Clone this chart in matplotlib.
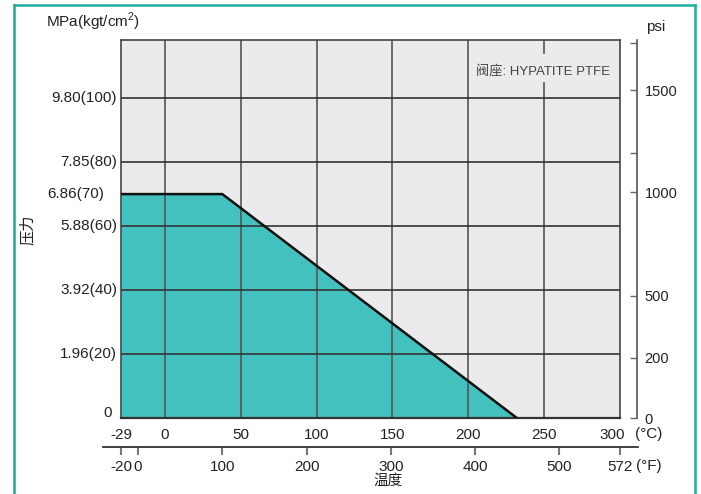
import matplotlib
matplotlib.use('Agg')
import matplotlib.pyplot as plt
from matplotlib.lines import Line2D
from matplotlib.transforms import blended_transform_factory, ScaledTranslation

plt.rcParams['font.family'] = ['Liberation Sans', 'Noto Sans CJK SC', 'DejaVu Sans']
plt.rcParams['mathtext.fontset'] = 'custom'
plt.rcParams['mathtext.rm'] = 'Liberation Sans'

# P-T rating, PTFE seat
temp_c = [-29, 37.8, 232]
press_mpa = [6.86, 6.86, 0]

c_ticks = [-29, 0, 50, 100, 150, 200, 250, 300]
f_ticks = [-20, 0, 100, 200, 300, 400, 500, 572]
mpa_ticks = [0, 1.96, 3.92, 5.88, 6.86, 7.85, 9.80]
mpa_labels = ['0', '1.96(20)', '3.92(40)', '5.88(60)', '6.86(70)', '7.85(80)', '9.80(100)']
psi_pos = [0, 1.84, 3.74, 6.92, 8.12, 10.04, 11.5]
psi_labels = ['0', '200', '500', '1000', '', '1500', '']

W, H = 701, 494
XMIN, XMAX = -29, 300
YMAX = 11.58


def fx(px):
    return px / W


def fy(py):
    return 1 - py / H


def f2c(f):
    return (f - 32) * 5 / 9


fig = plt.figure(figsize=(W / 100, H / 100), dpi=100)

ax = fig.add_axes([fx(121), fy(418), fx(620) - fx(121), fy(40) - fy(418)])
ax.set_xlim(XMIN, XMAX)
ax.set_ylim(0, YMAX)
ax.set_facecolor('#ebebee')

ax.fill_between(temp_c, press_mpa, color='#43c1be', lw=0, zorder=1)
for v in c_ticks[1:-1]:
    if v == 250:
        # leave a gap for the seat note
        ax.axvline(v, ymax=0.886, color='#555555', lw=1.2, zorder=2)
        ax.axvline(v, ymin=0.966, color='#555555', lw=1.2, zorder=2)
    else:
        ax.axvline(v, color='#555555', lw=1.2, zorder=2)
for v in mpa_ticks:
    if v not in (0, 6.86):
        ax.axhline(v, color='#333333', lw=1.2, zorder=2)
ax.plot(temp_c, press_mpa, color='#111111', lw=1.8, zorder=3, solid_capstyle='butt')

for s in ax.spines.values():
    s.set_color('#444444')
    s.set_linewidth(1.2)
ax.spines['bottom'].set_color('#333333')
ax.spines['bottom'].set_linewidth(1.6)

# MPa labels drawn by hand (6.86 sits further left)
ax.set_yticks([])
ytrans = blended_transform_factory(ax.transAxes, ax.transData)
for v, lab in zip(mpa_ticks, mpa_labels):
    x, dy = -0.008, 0
    if lab == '6.86(70)':
        x = -0.034
    if lab == '0':
        x, dy = -0.018, 0.15
    ax.text(x, v + dy, lab, transform=ytrans, ha='right', va='center',
            fontsize=11, color='#222222')

# Celsius labels; the last one is pulled in off the corner
ax.set_xticks([])
xtrans = blended_transform_factory(ax.transData, ax.transAxes)
for v in c_ticks:
    tx = -8 / 100 if v == c_ticks[-1] else 0
    shift = ScaledTranslation(tx, -10 / 100, fig.dpi_scale_trans)
    ax.text(v, 0, str(v), ha='center', va='top', fontsize=11, color='#222222',
            transform=xtrans + shift)

ax.text(0.846, 0.918, '阀座: HYPATITE PTFE', transform=ax.transAxes,
        ha='center', va='center', fontsize=9.5, color='#444444', zorder=4)

# psi scale on the right
ax2 = ax.twinx()
ax2.set_ylim(0, YMAX)
for s in ['left', 'top', 'bottom']:
    ax2.spines[s].set_visible(False)
ax2.spines['right'].set_position(('outward', 12.2))
ax2.spines['right'].set_color('#555555')
ax2.spines['right'].set_linewidth(1.2)
ax2.set_yticks(psi_pos, psi_labels)
ax2.tick_params(axis='y', direction='in', length=5, width=1.0, color='#666666',
                pad=5.5, labelsize=10.5, labelcolor='#222222')

# Fahrenheit scale below
px_per_c = (620 - 121) / (XMAX - XMIN)
axf = fig.add_axes([fx(103), fy(447), fx(638) - fx(103), 0.0001])
axf.set_xlim(XMIN - 18 / px_per_c, XMAX + 18 / px_per_c)
axf.set_facecolor('none')
for s in ['left', 'right', 'top']:
    axf.spines[s].set_visible(False)
axf.spines['bottom'].set_color('#333333')
axf.spines['bottom'].set_linewidth(1.3)
axf.set_yticks([])
axf.set_xticks([f2c(f) for f in f_ticks], [str(f) for f in f_ticks])
axf.tick_params(axis='x', direction='out', length=6, width=1.5, color='#777777',
                pad=3, labelsize=11, labelcolor='#222222')

fig.text(fx(93), fy(22), 'MPa(kgt/cm$^{2}$)', ha='center', va='center', fontsize=11, color='#222222')
fig.text(fx(656), fy(27), 'psi', ha='center', va='center', fontsize=11, color='#222222')
fig.text(fx(649), fy(434), '(°C)', ha='center', va='center', fontsize=11, color='#222222')
fig.text(fx(649), fy(466), '(°F)', ha='center', va='center', fontsize=11, color='#222222')
fig.text(fx(388), fy(481), '温度', ha='center', va='center', fontsize=10.5, color='#222222')
fig.text(fx(28), fy(230), '压力', ha='center', va='center', rotation=90, fontsize=11, color='#222222')

# teal frame, open at the bottom
frame = dict(color='#1aae9b', lw=1.8, transform=fig.transFigure)
fig.add_artist(Line2D([fx(14), fx(14)], [fy(5), -0.1], **frame))
fig.add_artist(Line2D([fx(14), fx(695)], [fy(5), fy(5)], **frame))
fig.add_artist(Line2D([fx(695), fx(695)], [fy(5), -0.1], **frame))

fig.savefig('out.png', dpi=100)
